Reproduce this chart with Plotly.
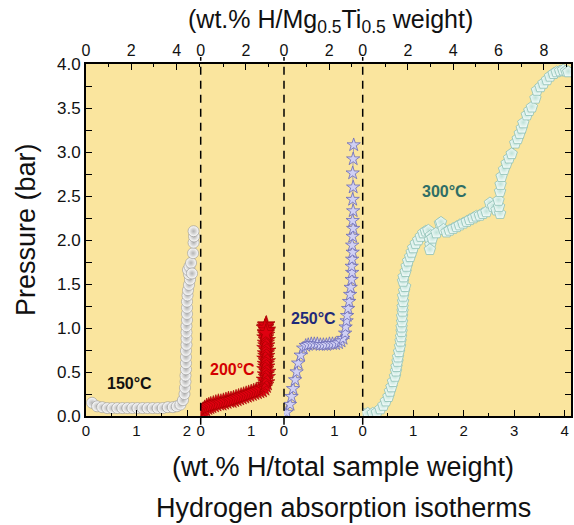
import plotly.graph_objects as go

# ---------------- data (bottom axis: wt.% H / total sample weight) ----------------
x150 = [0.12, 0.22, 0.32, 0.42, 0.52, 0.62, 0.72, 0.82, 0.92, 1.02, 1.12, 1.22, 1.32, 1.42,
        1.52, 1.62, 1.72, 1.80, 1.87, 1.92, 1.95, 1.96, 1.97, 1.97, 1.98, 1.98, 1.98, 1.98,
        1.99, 1.99, 1.99, 1.99, 2.00, 2.00, 2.00, 2.00, 2.01, 2.02, 2.04, 2.06, 2.04, 2.02,
        2.05, 2.08, 2.10, 2.12, 2.13, 2.14, 2.13]
y150 = [0.15, 0.11, 0.10, 0.09, 0.09, 0.09, 0.09, 0.09, 0.09, 0.09, 0.09, 0.09, 0.09, 0.09,
        0.09, 0.10, 0.10, 0.11, 0.13, 0.18, 0.25, 0.32, 0.39, 0.46, 0.53, 0.60, 0.67, 0.74,
        0.81, 0.88, 0.95, 1.02, 1.09, 1.16, 1.23, 1.30, 1.37, 1.43, 1.49, 1.55, 1.61, 1.66,
        1.70, 1.74, 1.62, 1.85, 1.97, 2.04, 2.10]

x200 = [0.02, 0.05, 0.08, 0.12, 0.16, 0.20, 0.25, 0.30, 0.35, 0.40, 0.45, 0.50, 0.55, 0.60,
        0.65, 0.70, 0.75, 0.80, 0.85, 0.90, 0.95, 1.00, 1.05, 1.10, 1.15, 1.20, 1.25,
        1.28, 1.30, 1.27, 1.31, 1.29, 1.32, 1.28, 1.30, 1.29, 1.31, 1.28, 1.30, 1.29, 1.32,
        1.28, 1.30, 1.29, 1.31, 1.28, 1.30, 1.29, 1.31, 1.28, 1.30, 1.29, 1.27, 1.31, 1.29]
y200 = [0.03, 0.06, 0.08, 0.10, 0.11, 0.12, 0.13, 0.14, 0.15, 0.15, 0.16, 0.17, 0.18, 0.18,
        0.19, 0.20, 0.21, 0.22, 0.23, 0.24, 0.25, 0.26, 0.27, 0.28, 0.29, 0.30, 0.32,
        0.35, 0.38, 0.41, 0.44, 0.47, 0.50, 0.53, 0.56, 0.59, 0.62, 0.65, 0.68, 0.71, 0.74,
        0.77, 0.80, 0.83, 0.86, 0.89, 0.92, 0.95, 0.98, 1.01, 1.04, 1.03, 1.00, 0.97, 0.94]

x250 = [0.05, 0.12, 0.15, 0.18, 0.22, 0.25, 0.28, 0.33, 0.38, 0.43, 0.48, 0.54, 0.60, 0.66,
        0.72, 0.78, 0.84, 0.90, 0.96, 1.02, 1.08, 1.13, 1.17, 1.21, 1.22, 1.24, 1.25, 1.27,
        1.29, 1.31, 1.32, 1.34, 1.35, 1.34, 1.35, 1.36, 1.35, 1.36, 1.37, 1.36, 1.37, 1.36,
        1.37, 1.36, 1.37, 1.38]
y250 = [0.04, 0.13, 0.22, 0.31, 0.41, 0.50, 0.60, 0.69, 0.77, 0.80, 0.81, 0.82, 0.82, 0.82,
        0.81, 0.81, 0.81, 0.82, 0.82, 0.82, 0.83, 0.85, 0.88, 0.94, 1.01, 1.08, 1.14, 1.22,
        1.30, 1.38, 1.46, 1.55, 1.63, 1.70, 1.78, 1.86, 1.94, 2.04, 2.13, 2.22, 2.33, 2.46,
        2.60, 2.76, 2.92, 3.08]

x300 = [0.02, 0.10, 0.20, 0.28, 0.35, 0.41, 0.46, 0.51, 0.54, 0.57, 0.60, 0.64, 0.66, 0.67,
        0.69, 0.70, 0.72, 0.74, 0.75, 0.76, 0.77, 0.77, 0.78, 0.78, 0.79, 0.79, 0.80, 0.80,
        0.82, 0.84, 0.80, 0.81, 0.85, 0.87, 0.90, 0.94, 0.97, 1.00, 1.05, 1.10, 1.15, 1.20,
        1.25, 1.30, 1.35, 1.33, 1.34, 1.33, 1.38, 1.46, 1.53, 1.55, 1.60, 1.66, 1.72, 1.79,
        1.86, 1.92, 1.99, 2.06, 2.12, 2.19, 2.25, 2.32, 2.38, 2.45, 2.52, 2.58, 2.65, 2.72,
        2.70, 2.69, 2.72, 2.73, 2.75, 2.80, 2.85, 2.90, 2.95, 3.02, 3.07, 3.11, 3.15, 3.18,
        3.25, 3.30, 3.35, 3.42, 3.45, 3.52, 3.58, 3.65, 3.71, 3.78, 3.84, 3.91, 3.97, 4.03,
        4.07]
y300 = [0.02, 0.03, 0.03, 0.04, 0.08, 0.12, 0.17, 0.22, 0.28, 0.33, 0.39, 0.45, 0.51, 0.56,
        0.62, 0.67, 0.73, 0.79, 0.85, 0.90, 0.96, 1.01, 1.07, 1.13, 1.19, 1.24, 1.30, 1.36,
        1.42, 1.47, 1.53, 1.58, 1.64, 1.70, 1.76, 1.81, 1.86, 1.91, 1.96, 2.00, 2.04, 2.08,
        2.10, 2.11, 2.05, 2.00, 1.94, 1.89, 2.02, 2.08, 2.19, 2.20, 2.12, 2.09, 2.11, 2.13,
        2.15, 2.17, 2.19, 2.21, 2.23, 2.25, 2.27, 2.28, 2.30, 2.32, 2.42, 2.38, 2.34, 2.30,
        2.38, 2.45, 2.55, 2.63, 2.72, 2.80, 2.87, 2.93, 2.98, 3.10, 3.15, 3.21, 3.27, 3.33,
        3.42, 3.47, 3.51, 3.61, 3.70, 3.74, 3.78, 3.82, 3.86, 3.89, 3.91, 3.92, 3.93, 3.92,
        3.91]

temp_labels = ["150°C", "200°C", "250°C", "300°C"]
label_x = [0.87, 0.62, 0.59, 1.61]
label_y = [0.375, 0.53, 1.11, 2.55]
label_colors = ["#111111", "#D40000", "#1F2A7A", "#2F6E66"]

y_ticks = [0.0, 0.5, 1.0, 1.5, 2.0, 2.5, 3.0, 3.5, 4.0]
TOP_SCALE = 2.23   # wt.% H/Mg0.5Ti0.5 per wt.% H/total

# ---------------- layout geometry ----------------
W, H = 574, 525
PL, PR, PT, PB = 86, 571, 64, 416
panel_px = [86, 200.7, 284, 362.7, 571]
PX_PER_UNIT = 50.5
pw = PR - PL
domains = [((panel_px[i] - PL) / pw, (panel_px[i + 1] - PL) / pw) for i in range(4)]
ranges = [(panel_px[i + 1] - panel_px[i]) / PX_PER_UNIT for i in range(4)]

FONT = "Liberation Sans, Arial, sans-serif"

fig = go.Figure()

fig.add_trace(go.Scatter(
    x=x150, y=y150, xaxis="x", yaxis="y", mode="markers",
    marker=dict(symbol="circle", size=11, color="#FFFFFF",
                gradient=dict(type="radial", color="#B4B4B4"),
                line=dict(color="#909090", width=0.6))))
fig.add_trace(go.Scatter(
    x=x200, y=y200, xaxis="x2", yaxis="y", mode="markers",
    marker=dict(symbol="star", size=13, color="#E00010",
                line=dict(color="#A00000", width=0.6))))
fig.add_trace(go.Scatter(
    x=x250, y=y250, xaxis="x3", yaxis="y", mode="lines+markers",
    line=dict(color="#8A8AC8", width=0.8),
    marker=dict(symbol="star", size=10, color="#D0D0F4",
                line=dict(color="#6A6AB8", width=0.8))))
fig.add_trace(go.Scatter(
    x=x300, y=y300, xaxis="x4", yaxis="y", mode="lines+markers",
    line=dict(color="#7FA8A0", width=0.8),
    marker=dict(symbol="pentagon", size=12, color="#F4FCFA",
                gradient=dict(type="radial", color="#BFE2D9"),
                line=dict(color="#8CBFB4", width=0.8))))

# empty traces so that the top axes and the right axis get drawn
for i in range(4):
    fig.add_trace(go.Scatter(x=[None], y=[None], xaxis="x" + str(i + 5), yaxis="y",
                             mode="markers", hoverinfo="skip"))
fig.add_trace(go.Scatter(x=[None], y=[None], xaxis="x4", yaxis="y2",
                         mode="markers", hoverinfo="skip"))

axis_common = dict(showline=True, linecolor="black", linewidth=2, ticks="inside",
                   ticklen=6, tickwidth=1.3, tickcolor="black", showgrid=False,
                   zeroline=False, tickfont=dict(family=FONT, size=15, color="#111"))

layout = dict(
    width=W, height=H,
    margin=dict(l=PL, r=W - PR, t=PT, b=H - PB, pad=0),
    paper_bgcolor="white", plot_bgcolor="#FAE59E",
    showlegend=False,
    font=dict(family=FONT, color="#111"),
)
for i in range(4):
    n = "" if i == 0 else str(i + 1)
    layout["xaxis" + n] = dict(axis_common, domain=list(domains[i]), range=[0, ranges[i]],
                               anchor="y", side="bottom", tick0=0, dtick=1,
                               minor=dict(dtick=0.5, ticks="inside", ticklen=3,
                                          tickcolor="black"))
    layout["xaxis" + str(i + 5)] = dict(axis_common, domain=list(domains[i]),
                                        range=[0, ranges[i] * TOP_SCALE],
                                        anchor="y", side="top", overlaying="x" + n,
                                        tick0=0, dtick=2,
                                        tickfont=dict(family=FONT, size=16, color="#111"),
                                        minor=dict(dtick=1, ticks="inside", ticklen=3,
                                                   tickcolor="black"))
layout["yaxis"] = dict(axis_common, range=[0, 4.0], anchor="x", domain=[0, 1],
                       tickvals=y_ticks, ticktext=[f"{v:.1f}" for v in y_ticks],
                       tickfont=dict(family=FONT, size=17, color="#111"),
                       minor=dict(dtick=0.25, ticks="inside", ticklen=6, tickcolor="black"))
layout["yaxis2"] = dict(axis_common, range=[0, 4.0], anchor="x4", overlaying="y",
                        side="right", showticklabels=False, tickvals=y_ticks,
                        minor=dict(dtick=0.25, ticks="inside", ticklen=6, tickcolor="black"))
fig.update_layout(**layout)

# dashed panel separators
for i in range(1, 4):
    xp = domains[i][0]
    fig.add_shape(type="line", xref="paper", yref="paper", x0=xp, x1=xp, y0=-0.025, y1=1.02,
                  line=dict(color="black", width=1.5, dash="8px,6px"), layer="above")

# temperature labels
for i in range(4):
    n = "" if i == 0 else str(i + 1)
    fig.add_annotation(x=label_x[i], y=label_y[i], xref="x" + n, yref="y",
                       xanchor="center", yanchor="middle",
                       text="<b>" + temp_labels[i] + "</b>", showarrow=False,
                       font=dict(family=FONT, size=16, color=label_colors[i]))

def px_to_paper(px, py):
    return (px - PL) / pw, (PB - py) / (PB - PT)

def add_text(px, py, text, size, angle=0):
    ax, ay = px_to_paper(px, py)
    fig.add_annotation(x=ax, y=ay, xref="paper", yref="paper", showarrow=False,
                       xanchor="center", yanchor="middle", text=text, textangle=angle,
                       font=dict(family=FONT, size=size, color="#111"))

add_text(330, 21, "(wt.% H/Mg<sub>0.5</sub>Ti<sub>0.5</sub> weight)", 25)
add_text(343, 467, "(wt.% H/total sample weight)", 27)
add_text(343, 508, "Hydrogen absorption isotherms", 27)
add_text(26, 230, "Pressure (bar)", 27, angle=-90)

fig.write_html("out.html")
